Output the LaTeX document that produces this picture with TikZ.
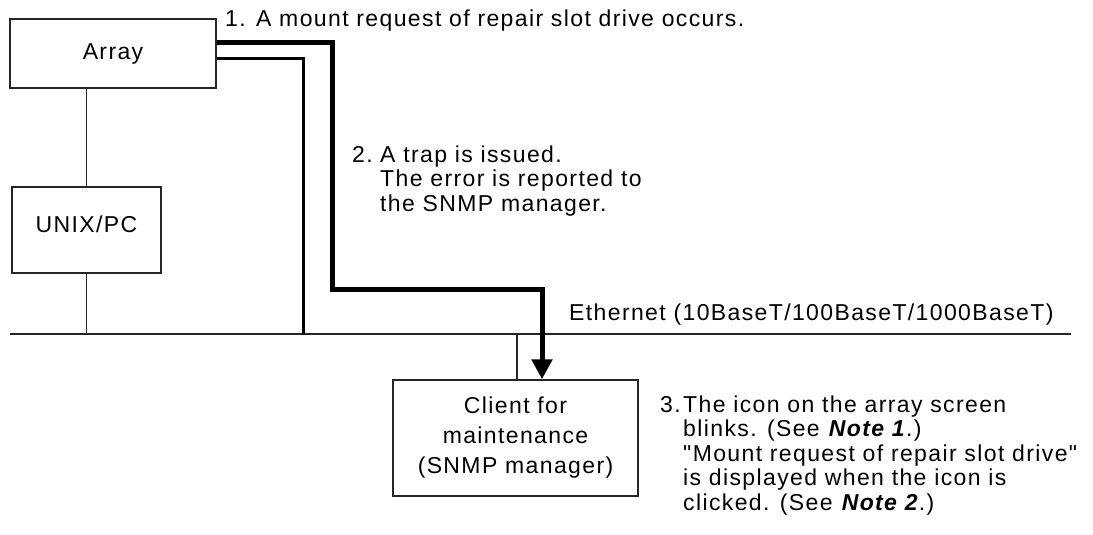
\documentclass[tikz,border=0pt]{standalone}
\usepackage{fontspec}
\setmainfont{Liberation Sans}[LetterSpace=6,Ligatures=TeXOff]
\usetikzlibrary{arrows.meta}
\begin{document}
\begin{tikzpicture}[x=1pt,y=-1pt,
  font=\fontsize{23}{24.5}\selectfont,
  box/.style={draw=black!85,line width=1.4pt,inner sep=0pt,rectangle},
  wire/.style={draw=black!85,line width=1.3pt},
  link/.style={draw=black,line width=3pt},
  trap/.style={draw=black,line width=5pt},
  note/.style={inner sep=0pt,anchor=base west,align=left}]
\useasboundingbox (0,0) rectangle (1093,535);

% devices
\node[box,minimum width=206pt,minimum height=69pt] (array) at (113,53.5) {Array};
\node[box,minimum width=149pt,minimum height=86pt,text height=17pt,text depth=13pt] (unix) at (86.5,230) {UNIX/PC};
\node[box,minimum width=245pt,minimum height=116pt,align=center,
      font=\fontsize{23}{30}\selectfont] (client) at (515.5,438)
      {Client for\\maintenance\\(SNMP manager)};

% Ethernet bus
\coordinate (eL) at (10,334);
\coordinate (eR) at (1071,334);
\draw[wire] (eL) -- (eR);

% thin device links
\draw[wire] (unix.north |- array.south) -- (unix.north);
\draw[wire] (unix.south) -- (unix.south |- eL);
\coordinate (ctap) at (517,334);
\draw[wire] (ctap) -- (ctap |- client.north);

% array to the bus
\coordinate (m1) at (303,59);
\draw[link] (array.east |- m1) -- (m1) -- (m1 |- eL);

% trap path to the client
\coordinate (t1) at (332,43);
\coordinate (t2) at (332,289);
\coordinate (t3) at (542,289);
\draw[trap,-{Triangle[length=20pt,width=20pt]}]
  (array.east |- t1) -- (t1) -- (t2) -- (t3) -- (t3 |- client.north);

% step notes
\node[note] (n1) at (225,27) {1. A mount request of repair slot drive occurs.};
\node[note] (n2) at (352,162) {\makebox[28pt][l]{2.}\begin{tabular}[t]{@{}l@{}}A trap is issued.\\The error is reported to\\the SNMP manager.\end{tabular}};
\node[note] (eth) at (569,320) {Ethernet (10BaseT/100BaseT/1000BaseT)};
\node[note] (n3) at (660,412) {\makebox[23pt][l]{3.}\begin{tabular}[t]{@{}l@{}}The icon on the array screen\\blinks. (See \textbf{\textit{Note 1}}.)\\"Mount request of repair slot drive"\\is displayed when the icon is\\clicked. (See \textbf{\textit{Note 2}}.)\end{tabular}};
\end{tikzpicture}
\end{document}
